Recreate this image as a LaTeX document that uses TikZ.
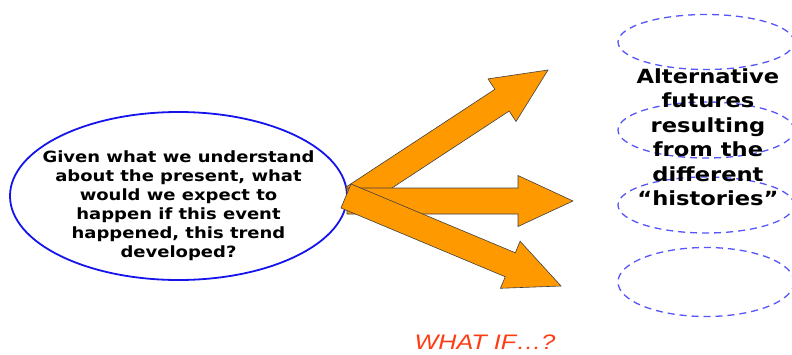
\documentclass[tikz,border=0pt]{standalone}
\usepackage{fontspec}
\setmainfont{DejaVu Sans}
\newfontfamily\wideface[FakeStretch=1.16]{DejaVu Sans Bold}
\newfontfamily\arialfont[FakeStretch=1.2]{Liberation Sans}
\usetikzlibrary{shapes.geometric,calc}
\definecolor{arroworange}{RGB}{255,153,0}
\definecolor{presentblue}{RGB}{20,20,235}
\definecolor{futureblue}{RGB}{85,85,250}
\definecolor{whatifred}{RGB}{255,60,20}
\tikzset{
  present/.style={ellipse, draw=presentblue, line width=1.8pt, minimum width=337pt, minimum height=168pt, inner sep=0pt},
  future/.style={ellipse, draw=futureblue, line width=1.3pt, dash pattern=on 7pt off 5pt, minimum width=176pt, inner sep=0pt},
  futurearrow/.style={fill=arroworange, draw=black!75, line width=0.6pt, line join=miter}
}
\newcommand{\blockarrow}[2]{%
  \coordinate (#1-#2-h) at ($(#2)!55pt!(#1)$);
  \filldraw[futurearrow] ($(#1)!13pt!90:(#2)$) -- ($(#1-#2-h)!13pt!-90:(#1)$)
    -- ($(#1-#2-h)!25.5pt!-90:(#1)$) -- (#2) -- ($(#1-#2-h)!25.5pt!90:(#1)$)
    -- ($(#1-#2-h)!13pt!90:(#1)$) -- ($(#1)!13pt!-90:(#2)$) -- cycle;}
\begin{document}
\begin{tikzpicture}[x=1pt,y=-1pt]
  \useasboundingbox (0,0) rectangle (792,354);
  \node[present] (now) at (178.5,196) {};
  \node[align=center, font=\wideface\fontsize{15.5}{19}\selectfont] (nowtext) at ($(now)+(0,10)$) {Given what we understand\\about the present, what\\would we expect to\\happen if this event\\happened, this trend\\developed?};
  \node[future, minimum height=55pt] (fut1) at (706,42) {};
  \node[future, minimum height=56pt] (fut2) at (706,130) {};
  \node[future, minimum height=56pt] (fut3) at (706,205) {};
  \node[future, minimum height=69pt] (fut4) at (706,282) {};
  \node[align=center, font=\wideface\fontsize{19.5}{24.5}\selectfont] (futtext) at (708,137) {Alternative\\futures\\resulting\\from the\\different\\“histories”};
  \coordinate (tailup) at (353,198);
  \coordinate (tailmid) at (347,201);
  \coordinate (taillow) at (346,196);
  \coordinate (tipup) at (548,70);
  \coordinate (tipmid) at (573,201);
  \coordinate (tiplow) at (561,286);
  \blockarrow{tailup}{tipup}
  \blockarrow{tailmid}{tipmid}
  \blockarrow{taillow}{tiplow}
  \node[text=whatifred, font=\arialfont\fontsize{21}{24}\selectfont\itshape, inner sep=1pt] (whatif) at (485,342) {WHAT IF…?};
\end{tikzpicture}
\end{document}
